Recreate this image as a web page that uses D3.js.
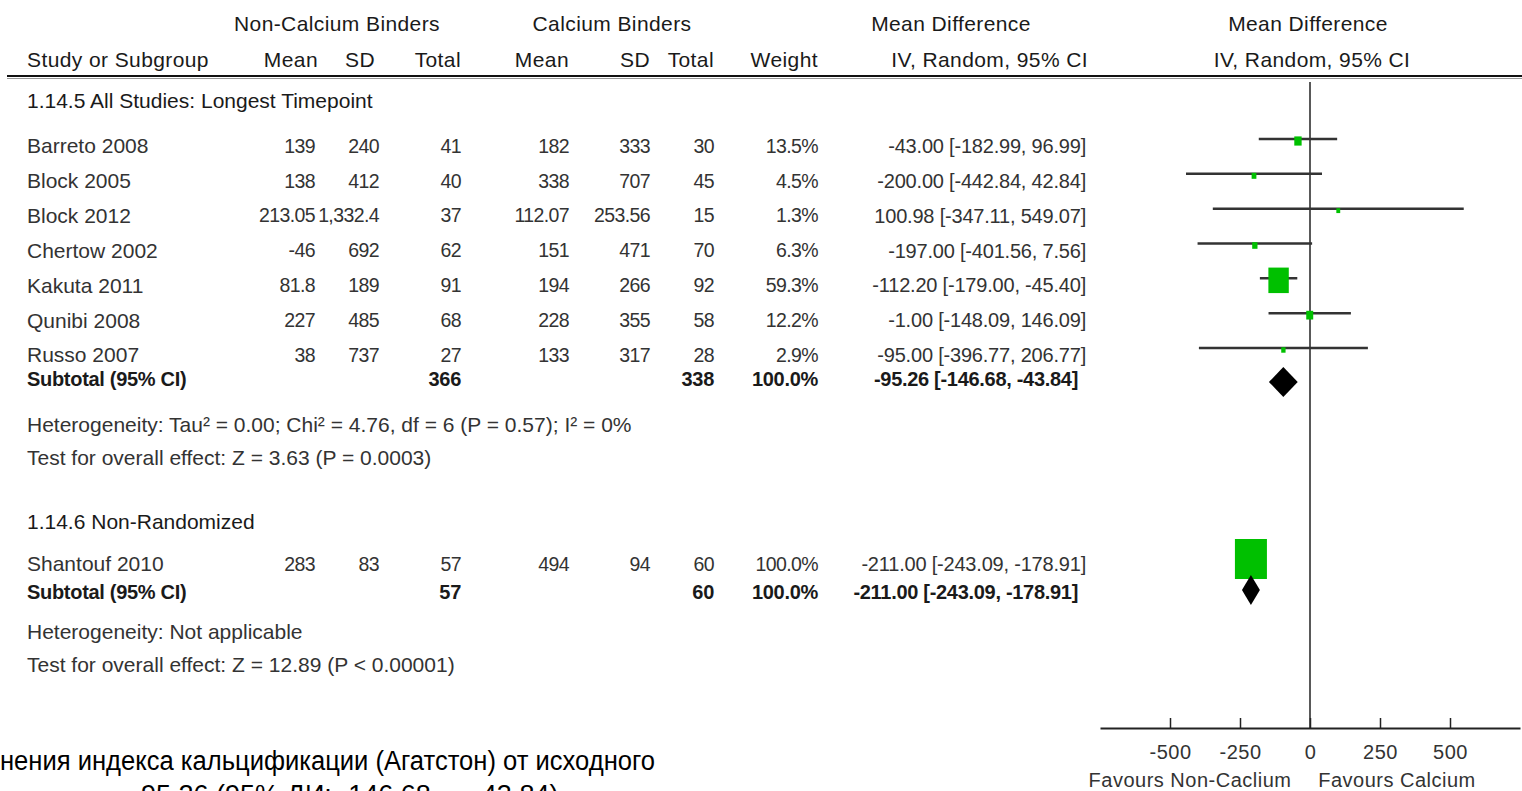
<!DOCTYPE html>
<html>
<head>
<meta charset="utf-8">
<script src="https://cdn.jsdelivr.net/npm/d3@7"></script>
<style>
  body { margin: 0; background: #fff; overflow: hidden; }
  svg text { font-family: "Liberation Sans", Arial, sans-serif; }
</style>
</head>
<body>
<script>
// ---- data ----
const studies   = ["Barreto 2008", "Block 2005", "Block 2012", "Chertow 2002", "Kakuta 2011", "Qunibi 2008", "Russo 2007"];
const ncMean    = [139, 138, 213.05, -46, 81.8, 227, 38];
const ncSD      = [240, 412, 1332.4, 692, 189, 485, 737];
const ncTotal   = [41, 40, 37, 62, 91, 68, 27];
const caMean    = [182, 338, 112.07, 151, 194, 228, 133];
const caSD      = [333, 707, 253.56, 471, 266, 355, 317];
const caTotal   = [30, 45, 15, 70, 92, 58, 28];
const weights   = [13.5, 4.5, 1.3, 6.3, 59.3, 12.2, 2.9];
const md        = [-43.00, -200.00, 100.98, -197.00, -112.20, -1.00, -95.00];
const ciLow     = [-182.99, -442.84, -347.11, -401.56, -179.00, -148.09, -396.77];
const ciHigh    = [96.99, 42.84, 549.07, 7.56, -45.40, 146.09, 206.77];

// second subgroup (one study)
const studies2  = ["Shantouf 2010"];
const ncMean2   = [283];
const ncSD2     = [83];
const ncTotal2  = [57];
const caMean2   = [494];
const caSD2     = [94];
const caTotal2  = [60];
const weights2  = [100.0];
const md2       = [-211.00];
const ciLow2    = [-243.09];
const ciHigh2   = [-178.91];

// subtotals: [ncTotal, caTotal, weight, md, low, high]
const subtotal1 = [366, 338, 100.0, -95.26, -146.68, -43.84];
const subtotal2 = [57, 60, 100.0, -211.00, -243.09, -178.91];

const axisTicks = [-500, -250, 0, 250, 500];

// ---- setup ----
const width = 1522, height = 791;
const fmt = d3.formatLocale({decimal: ".", thousands: ",", grouping: [3], currency: ["", ""], minus: "-"});
const num = fmt.format(",");
const fix2 = fmt.format(".2f");
const pct = fmt.format(".1f");
const ciText = (m, l, h) => fix2(m) + " [" + fix2(l) + ", " + fix2(h) + "]";

const svg = d3.select("body").append("svg")
  .attr("width", width)
  .attr("height", height);

// forest plot scale
const x = d3.scaleLinear().domain([-750, 750]).range([1100, 1520]);
const boxSize = d3.scaleLinear().domain([0, 100]).range([3.5, 32]);

// table column right edges
const col = { ncMean: 315, ncSD: 379, ncTotal: 461, caMean: 569, caSD: 650, caTotal: 714, weight: 818, ci: 1086 };

function txt(g, s, xx, yy, anchor, opts) {
  opts = opts || {};
  return g.append("text")
    .attr("x", xx).attr("y", yy).attr("dy", "0.35em")
    .attr("text-anchor", anchor || "start")
    .attr("font-size", opts.size || 21)
    .attr("font-weight", opts.bold ? "bold" : "normal")
    .attr("letter-spacing", opts.ls || 0)
    .attr("fill", opts.fill || "#333")
    .text(s);
}
const numOpt = { size: 19.5, ls: -0.6 };
const ciOpt = { size: 20, ls: -0.2 };
const head = { fill: "#1a1a1a", ls: 0.4 };

const table = svg.append("g");

// headers
txt(table, "Non-Calcium Binders", 337, 24, "middle", head);
txt(table, "Calcium Binders", 612, 24, "middle", head);
txt(table, "Mean Difference", 951, 24, "middle", head);
txt(table, "Mean Difference", 1308, 24, "middle", head);

txt(table, "Study or Subgroup", 27, 60, "start", head);
txt(table, "Mean", col.ncMean + 3, 60, "end", head);
txt(table, "SD", col.ncSD - 4, 60, "end", head);
txt(table, "Total", col.ncTotal, 60, "end", head);
txt(table, "Mean", col.caMean, 60, "end", head);
txt(table, "SD", col.caSD, 60, "end", head);
txt(table, "Total", col.caTotal, 60, "end", head);
txt(table, "Weight", col.weight, 60, "end", head);
txt(table, "IV, Random, 95% CI", col.ci + 2, 60, "end", head);
txt(table, "IV, Random, 95% CI", 1312, 60, "middle", head);

// double rule under header
svg.append("line").attr("x1", 7).attr("x2", width).attr("y1", 76).attr("y2", 76)
  .attr("stroke", "#111").attr("stroke-width", 2);
svg.append("line").attr("x1", 7).attr("x2", width).attr("y1", 78.5).attr("y2", 78.5)
  .attr("stroke", "#999").attr("stroke-width", 1);

// subgroup 1
txt(table, "1.14.5 All Studies: Longest Timepoint", 27, 101, "start", { fill: "#1a1a1a" });

const yStudy = d3.scaleLinear().domain([0, studies.length - 1]).range([146, 355]);

function studyRow(yy, name, a, b, c, d, e, f, w, m, l, h) {
  txt(table, name, 27, yy, "start");
  txt(table, num(a), col.ncMean, yy, "end", numOpt);
  txt(table, num(b), col.ncSD, yy, "end", numOpt);
  txt(table, num(c), col.ncTotal, yy, "end", numOpt);
  txt(table, num(d), col.caMean, yy, "end", numOpt);
  txt(table, num(e), col.caSD, yy, "end", numOpt);
  txt(table, num(f), col.caTotal, yy, "end", numOpt);
  txt(table, pct(w) + "%", col.weight, yy, "end", numOpt);
  txt(table, ciText(m, l, h), col.ci, yy, "end", ciOpt);
}

studies.forEach((s, i) => {
  studyRow(yStudy(i), s, ncMean[i], ncSD[i], ncTotal[i], caMean[i], caSD[i], caTotal[i], weights[i], md[i], ciLow[i], ciHigh[i]);
});

function subtotalRow(yy, st) {
  const b = { bold: true, fill: "#1a1a1a", size: 20, ls: -0.3 };
  txt(table, "Subtotal (95% CI)", 27, yy, "start", b);
  txt(table, num(st[0]), col.ncTotal, yy, "end", b);
  txt(table, num(st[1]), col.caTotal, yy, "end", b);
  txt(table, pct(st[2]) + "%", col.weight, yy, "end", b);
  txt(table, ciText(st[3], st[4], st[5]), col.ci - 8, yy, "end", b);
}

subtotalRow(379, subtotal1);
txt(table, "Heterogeneity: Tau\u00b2 = 0.00; Chi\u00b2 = 4.76, df = 6 (P = 0.57); I\u00b2 = 0%", 27, 425, "start");
txt(table, "Test for overall effect: Z = 3.63 (P = 0.0003)", 27, 458, "start");

// subgroup 2
txt(table, "1.14.6 Non-Randomized", 27, 522, "start", { fill: "#1a1a1a" });
const yStudy2 = 564;
studies2.forEach((s, i) => {
  studyRow(yStudy2, s, ncMean2[i], ncSD2[i], ncTotal2[i], caMean2[i], caSD2[i], caTotal2[i], weights2[i], md2[i], ciLow2[i], ciHigh2[i]);
});
subtotalRow(592, subtotal2);
txt(table, "Heterogeneity: Not applicable", 27, 632, "start");
txt(table, "Test for overall effect: Z = 12.89 (P < 0.00001)", 27, 665, "start");

// ---- forest plot ----
const plot = svg.append("g");
const axisY = 728;

plot.append("line")
  .attr("x1", x(0)).attr("x2", x(0)).attr("y1", 82).attr("y2", axisY)
  .attr("stroke", "#222").attr("stroke-width", 1.5);

function drawStudies(names, ys, m, l, h, w) {
  const d = names.map((n, i) => ({ y: ys(i) - 7, m: m[i], l: l[i], h: h[i], w: w[i] }));
  plot.selectAll(null).data(d).enter().append("line")
    .attr("x1", e => x(e.l)).attr("x2", e => x(e.h))
    .attr("y1", e => e.y).attr("y2", e => e.y)
    .attr("stroke", "#333").attr("stroke-width", 2.5);
  plot.selectAll(null).data(d).enter().append("rect")
    .attr("x", e => x(e.m) - boxSize(e.w) / 2)
    .attr("y", e => e.y + 2 - boxSize(e.w) * 1.25 / 2)
    .attr("width", e => boxSize(e.w))
    .attr("height", e => boxSize(e.w) * 1.25)
    .attr("fill", "#00c000");
}

drawStudies(studies, yStudy, md, ciLow, ciHigh, weights);
drawStudies(studies2, () => yStudy2, md2, ciLow2, ciHigh2, weights2);

function diamond(cy, st) {
  const pts = [[x(st[4]), cy], [x(st[3]), cy - 15], [x(st[5]), cy], [x(st[3]), cy + 15]];
  plot.append("path")
    .attr("d", d3.line()(pts) + "Z")
    .attr("fill", "#000");
}
diamond(382, subtotal1);
diamond(590, subtotal2);

// axis
const axis = d3.axisBottom(x)
  .tickValues(axisTicks)
  .tickFormat(d => String(d))
  .tickSizeInner(-10)
  .tickSizeOuter(0)
  .tickPadding(17);

const axisG = plot.append("g")
  .attr("transform", "translate(0," + axisY + ")")
  .call(axis);
axisG.select(".domain").attr("stroke", "#222").attr("stroke-width", 2);
axisG.selectAll(".tick line").attr("stroke", "#222").attr("stroke-width", 1.5);
axisG.selectAll(".tick text")
  .attr("font-size", 20)
  .attr("letter-spacing", 0.5)
  .attr("fill", "#333")
  .attr("font-family", "Liberation Sans, Arial, sans-serif");

txt(plot, "Favours Non-Caclium", 1190, 780, "middle", { size: 20, ls: 0.5 });
txt(plot, "Favours Calcium", 1397, 780, "middle", { size: 20, ls: 0.5 });

// ---- caption (cut off by the slide edge) ----
svg.append("text").attr("x", 0).attr("y", 770)
  .attr("font-size", 27).attr("fill", "#000")
  .attr("textLength", 655).attr("lengthAdjust", "spacingAndGlyphs")
  .text("нения индекса кальцификации (Агатстон) от исходного");
svg.append("text").attr("x", 132).attr("y", 804)
  .attr("font-size", 27).attr("fill", "#000")
  .text("-95.26 (95% ДИ: -146.68 — -43.84)");
</script>
</body>
</html>
